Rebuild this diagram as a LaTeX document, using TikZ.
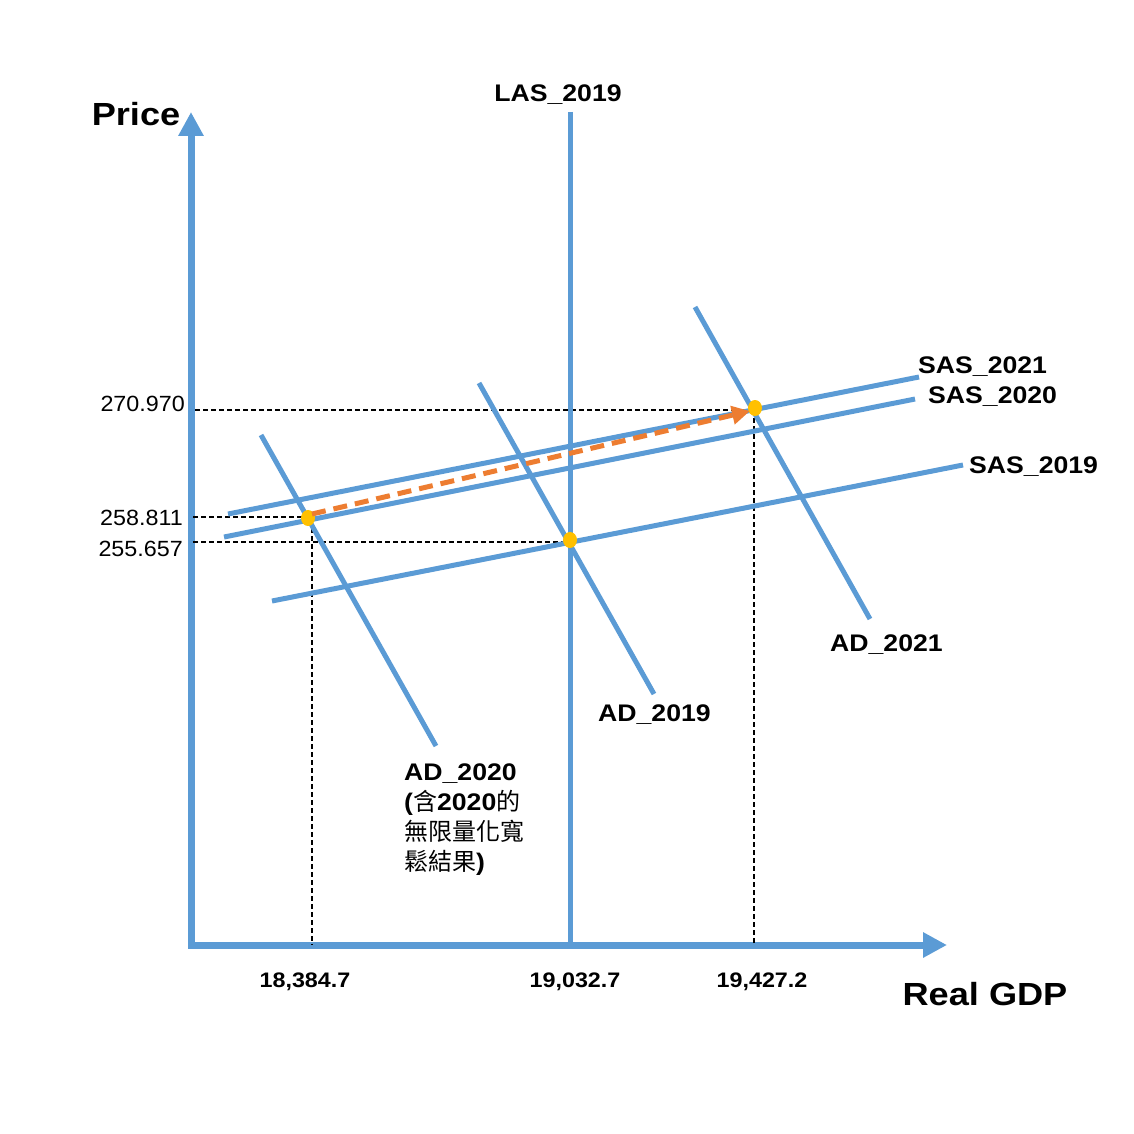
\documentclass[tikz,border=0pt]{standalone}
\usepackage{fontspec}
\usepackage{graphicx}
\setmainfont{Liberation Sans}
\newfontfamily\cjk{Noto Sans CJK TC}
\usetikzlibrary{arrows.meta,shapes.geometric}
\definecolor{cblue}{HTML}{5B9BD5}
\definecolor{corange}{HTML}{ED7D31}
\definecolor{cyellow}{HTML}{FFC000}
\newcommand\wxs[1]{\scalebox{1.11}[1]{#1}}
\newcommand\wxb[1]{\scalebox{1.13}[1]{#1}}
\begin{document}
\begin{tikzpicture}[x=1pt,y=-1pt,
  axisline/.style={line width=7pt,cblue,-{Triangle[width=24pt,length=24pt]}},
  curveline/.style={line width=5pt,cblue},
  guideline/.style={line width=1.3pt,black,dash pattern=on 5pt off 3pt},
  shiftarrow/.style={line width=5pt,corange,dash pattern=on 14pt off 8pt,-{Triangle[width=18pt,length=18pt]}},
  eqdot/.style={ellipse,fill=cyellow,minimum width=14pt,minimum height=16pt,inner sep=0pt},
  biglab/.style={font=\bfseries\fontsize{32}{34}\selectfont,inner sep=0pt},
  clab/.style={font=\bfseries\fontsize{24}{28}\selectfont,inner sep=0pt},
  ticklab/.style={font=\bfseries\fontsize{21}{24}\selectfont,inner sep=0pt},
  plab/.style={font=\fontsize{22}{24}\selectfont,inner sep=0pt}]
\useasboundingbox (0,0) rectangle (1134,1134);
% axes
\coordinate (O) at (191,945);
\coordinate (Ytip) at (191,112);
\coordinate (Xtip) at (947,945);
\coordinate (Ybase) at (191,945);
\coordinate (Xbase) at (188,945);
\draw[axisline] (Ybase) -- (Ytip);
\draw[axisline] (Xbase) -- (Xtip);
% curve ends
\coordinate (las1) at (570,112); \coordinate (las2) at (570,945);
\coordinate (s19a) at (272,601); \coordinate (s19b) at (963,465);
\coordinate (s20a) at (224,537); \coordinate (s20b) at (915,399);
\coordinate (s21a) at (228,514); \coordinate (s21b) at (919,377);
\coordinate (d20a) at (261,435); \coordinate (d20b) at (436,746);
\coordinate (d19a) at (479,383); \coordinate (d19b) at (654,694);
\coordinate (d21a) at (695,307); \coordinate (d21b) at (870,619);
% guides
\coordinate (g1) at (195,410); \coordinate (g2) at (193,517); \coordinate (g3) at (193,542);
\coordinate (v1b) at (312,945); \coordinate (v2b) at (754,945);
\coordinate (v1t) at (312,520); \coordinate (v2t) at (754,410);
\coordinate (h1e) at (755,410); \coordinate (h2e) at (308,517); \coordinate (h3e) at (570,542);
\draw[guideline] (g1) -- (h1e);
\draw[guideline] (g2) -- (h2e);
\draw[guideline] (g3) -- (h3e);
\draw[guideline] (v1t) -- (v1b);
\draw[guideline] (v2t) -- (v2b);
% curves
\draw[curveline] (las1) -- (las2);
\draw[curveline] (s19a) -- (s19b);
\draw[curveline] (s20a) -- (s20b);
\draw[curveline] (s21a) -- (s21b);
\draw[curveline] (d20a) -- (d20b);
\draw[curveline] (d19a) -- (d19b);
\draw[curveline] (d21a) -- (d21b);
% equilibrium points
\node[eqdot] (e20) at (308,518) {};
\node[eqdot] (e19) at (570,540) {};
\node[eqdot] (e21) at (755,408) {};
\coordinate (arrs) at (312,514);
\coordinate (arre) at (750,411);
\draw[shiftarrow] (arrs) -- (arre);
% labels
\node[biglab] (price) at (136,114) {\wxb{Price}};
\node[biglab] (rgdp) at (985,994) {\wxb{Real GDP}};
\node[clab] (las) at (558,95) {\wxs{LAS\_2019}};
\node[clab,anchor=west] (l21) at (918,367) {\wxs{SAS\_2021}};
\node[clab,anchor=west] (l20) at (928,397) {\wxs{SAS\_2020}};
\node[clab,anchor=west] (l19) at (969,467) {\wxs{SAS\_2019}};
\node[clab,anchor=west] (ld21) at (830,645) {\wxs{AD\_2021}};
\node[clab,anchor=west] (ld19) at (598,715) {\wxs{AD\_2019}};
\node[clab,anchor=north west,align=left,font=\fontsize{24}{30}\selectfont] (ld20) at (404,764)
  {\bfseries\wxs{AD\_2020}\\
   \bfseries\wxs{(}\mdseries{\cjk 含}\bfseries\wxs{2020}\mdseries{\cjk 的}\\
   {\cjk 無限量化寬}\\
   {\cjk 鬆結果}\bfseries\wxs{)}};
\node[ticklab] (t1) at (305,982) {\wxs{18,384.7}};
\node[ticklab] (t2) at (575,982) {\wxs{19,032.7}};
\node[ticklab] (t3) at (762,982) {\wxs{19,427.2}};
\node[plab,anchor=east] (p1) at (185,404) {\scalebox{1.06}[1]{270.970}};
\node[plab,anchor=east] (p2) at (183,518) {\scalebox{1.06}[1]{258.811}};
\node[plab,anchor=east] (p3) at (183,549) {\scalebox{1.06}[1]{255.657}};
\end{tikzpicture}
\end{document}
